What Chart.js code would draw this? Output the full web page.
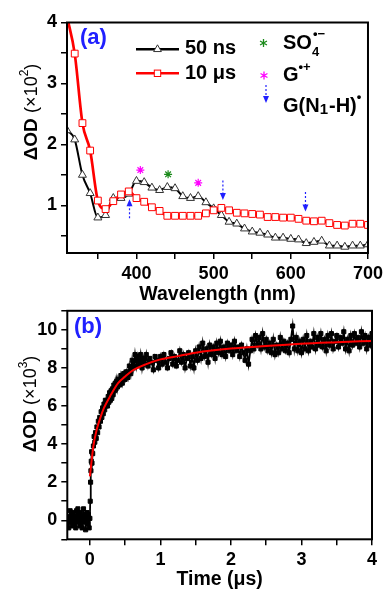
<!DOCTYPE html>
<html>
<head>
<meta charset="utf-8">
<script src="https://cdn.jsdelivr.net/npm/chart.js@4.4.1/dist/chart.umd.min.js"></script>
<style>
    html, body { margin: 0; padding: 0; background: #fff; }
    body { width: 387px; height: 591px; position: relative; overflow: hidden; }
    canvas { position: absolute; left: 0; }
    #spectra { top: 0; }
    #kinetics { top: 296px; }
</style>
</head>
<body>
<canvas id="spectra" width="387" height="306"></canvas>
<canvas id="kinetics" width="387" height="295"></canvas>
<script>
// panel (a): transient spectra
const wavelengths = [310, 320, 330, 340, 350, 360, 370, 380, 390, 400, 410, 420, 430, 440, 450, 460, 470, 480, 490, 500,
    510, 520, 530, 540, 550, 560, 570, 580, 590, 600, 610, 620, 630, 640, 650, 660, 670, 680, 690, 700]
const od50ns = [2.23, 2.08, 1.50, 1.20, 0.80, 0.84, 1.12, 1.12, 1.19, 1.40, 1.38, 1.29, 1.25, 1.30, 1.28, 1.15, 1.12, 1.15, 1.05, 0.95,
    0.84, 0.73, 0.70, 0.62, 0.57, 0.55, 0.52, 0.47, 0.47, 0.45, 0.44, 0.38, 0.40, 0.42, 0.34, 0.34, 0.32, 0.34, 0.34, 0.36]
const od10us = [4.10, 3.49, 2.35, 1.90, 1.08, 0.94, 1.07, 1.18, 1.23, 1.12, 1.06, 0.97, 0.91, 0.83, 0.83, 0.83, 0.83, 0.83, 0.87, 0.92,
    0.96, 0.92, 0.88, 0.87, 0.86, 0.85, 0.81, 0.81, 0.80, 0.80, 0.78, 0.75, 0.74, 0.75, 0.71, 0.68, 0.67, 0.70, 0.70, 0.68]

// band markers
const gCationX = [405, 480]
const gCationY = [1.58, 1.37]
const so4X = [441]
const so4Y = [1.51]
const arrowX = [391, 512, 619]
const arrowTail = [0.79, 1.41, 1.22]
const arrowTip = [1.10, 1.09, 0.90]

// panel (b): kinetic trace
const timeUs = [-0.31, -0.30, -0.29, -0.28, -0.27, -0.26, -0.25, -0.24, -0.23, -0.22, -0.21, -0.20, -0.19, -0.18, -0.17, -0.16,
    -0.15, -0.14, -0.13, -0.12, -0.11, -0.10, -0.09, -0.08, -0.07, -0.06, -0.05, -0.04, -0.03, -0.02, -0.01, 0.00,
    0.005, 0.01, 0.015, 0.02, 0.025, 0.03, 0.04, 0.05, 0.06, 0.07, 0.08, 0.09, 0.10, 0.11, 0.12, 0.13, 0.14, 0.15,
    0.16, 0.17, 0.18, 0.19, 0.20, 0.21, 0.22, 0.23, 0.24, 0.25, 0.26, 0.27, 0.28, 0.29, 0.30, 0.31, 0.32, 0.33, 0.34,
    0.35, 0.36, 0.37, 0.38, 0.39, 0.40, 0.42, 0.44, 0.46, 0.48, 0.50, 0.52, 0.54, 0.56, 0.58, 0.60, 0.62, 0.64, 0.66,
    0.68, 0.70, 0.72, 0.74, 0.76, 0.78,
    0.800, 0.825, 0.850, 0.875, 0.900, 0.925, 0.950, 0.975, 1.000, 1.025, 1.050, 1.075, 1.100, 1.125, 1.150, 1.175,
    1.200, 1.225, 1.250, 1.275, 1.300, 1.325, 1.350, 1.375, 1.400, 1.425, 1.450, 1.475, 1.500, 1.525, 1.550, 1.575,
    1.600, 1.625, 1.650, 1.675, 1.700, 1.725, 1.750, 1.775, 1.800, 1.825, 1.850, 1.875, 1.900, 1.925, 1.950, 1.975,
    2.000, 2.025, 2.050, 2.075, 2.100, 2.125, 2.150, 2.175, 2.200, 2.225, 2.250, 2.275, 2.300, 2.325, 2.350, 2.375,
    2.400, 2.425, 2.450, 2.475, 2.500, 2.525, 2.550, 2.575, 2.600, 2.625, 2.650, 2.675, 2.700, 2.725, 2.750, 2.775,
    2.800, 2.825, 2.850, 2.875, 2.900, 2.925, 2.950, 2.975, 3.000, 3.025, 3.050, 3.075, 3.100, 3.125, 3.150, 3.175,
    3.200, 3.225, 3.250, 3.275, 3.300, 3.325, 3.350, 3.375, 3.400, 3.425, 3.450, 3.475, 3.500, 3.525, 3.550, 3.575,
    3.600, 3.625, 3.650, 3.675, 3.700, 3.725, 3.750, 3.775, 3.800, 3.825, 3.850, 3.875, 3.900, 3.925, 3.950, 3.975,
    4.000]
const odTrace = [0.2, -0.4, 0.1, 0.5, -0.1, 0.3, -0.3, 0.0, 0.4, -0.2, 0.2, -0.4, 0.5, 0.1, 0.6, -0.1,
    0.3, -0.3, 0.4, 0.0, -0.4, 0.2, 0.6, -0.1, 0.3, -0.5, 0.1, 0.4, -0.2, 0.3, -0.4, 0.1,
    1.0, 2.0, 2.6, 3.1, 3.6, 3.0, 3.5, 3.9, 4.4, 4.1, 4.6, 4.3, 4.9, 4.6, 5.2, 4.9, 5.4, 5.2,
    5.7, 5.4, 5.9, 5.6, 6.1, 5.8, 6.3, 6.0, 6.3, 6.0, 6.5, 6.2, 6.7, 6.3, 6.8, 6.4, 6.9, 6.6, 7.1,
    6.8, 7.2, 6.9, 7.3, 7.0, 7.4, 7.1, 7.6, 7.2, 7.7, 7.4, 7.8, 7.5, 8.1, 7.7, 8.4, 8.0, 8.7, 8.1,
    8.6, 8.2, 8.7, 8.0, 8.5, 8.2,
    8.7, 8.1, 8.5, 8.3, 7.9, 8.6, 8.4, 8.0, 8.6, 8.2, 8.7, 8.3, 8.0, 8.5, 8.8, 8.2,
    8.6, 8.1, 8.4, 8.9, 8.3, 8.7, 8.0, 8.5, 8.8, 8.1, 8.6, 8.0, 8.9, 8.4, 9.1, 8.5,
    9.3, 8.6, 9.0, 8.3, 9.2, 8.7, 9.1, 8.5, 9.3, 8.8, 9.4, 8.7, 9.1, 8.6, 9.3, 8.9,
    9.2, 8.7, 9.4, 8.9, 9.1, 8.6, 9.2, 8.8, 8.4, 9.0, 8.2, 8.9, 9.5, 9.0, 9.7, 9.2,
    9.6, 9.0, 9.8, 9.1, 9.5, 8.9, 9.3, 8.8, 9.5, 8.7, 9.2, 8.8, 9.6, 9.0, 9.4, 8.9,
    9.3, 8.8, 9.5, 10.2, 9.0, 9.6, 8.9, 9.4, 8.8, 9.5, 9.0, 9.7, 8.9, 9.4, 9.1, 9.8,
    9.0, 9.6, 9.2, 9.8, 9.1, 9.5, 8.9, 9.7, 9.2, 9.8, 9.0, 9.4, 9.7, 9.1, 9.6, 9.3,
    9.9, 9.0, 9.5, 8.9, 9.7, 9.2, 9.8, 9.3, 9.6, 9.1, 9.9, 9.3, 9.7, 9.0, 9.6, 9.2,
    9.8]
const fitTime = [0.00, 0.05, 0.10, 0.15, 0.20, 0.30, 0.40, 0.50, 0.60, 0.80, 1.00, 1.25, 1.50, 2.00, 2.50, 3.00, 3.50, 4.00]
const fitOd = [2.3, 3.9, 4.8, 5.4, 5.9, 6.6, 7.2, 7.55, 7.85, 8.2, 8.45, 8.62, 8.8, 9.02, 9.15, 9.27, 9.35, 9.42]

const FONT = '"Liberation Sans", Arial, sans-serif'
const BLUE = '#2020ff'
const f = (size, bold) => `${bold ? 'bold ' : ''}${size}px ${FONT}`
const pts = (xs, ys) => xs.map((x, i) => ({ x, y: ys[i] }))

Chart.defaults.font.family = FONT
Chart.defaults.color = '#000'

const drawParts = (ctx, parts, x, y) => {
    let cx = x
    parts.forEach(p => {
        ctx.font = p.font
        ctx.fillStyle = p.color || '#000'
        ctx.fillText(p.text, cx, y + (p.dy || 0))
        cx += ctx.measureText(p.text).width + (p.gap || 0)
    })
    return cx
}

const partsWidth = (ctx, parts) => parts.reduce((w, p) => {
    ctx.font = p.font
    return w + ctx.measureText(p.text).width + (p.gap || 0)
}, 0)

const yTitle = (ctx, sup, cx, cy) => {
    const parts = [
        { text: 'ΔOD ', font: f(19, true) },
        { text: '(×10', font: f(18, false) },
        { text: sup, font: f(12, false), dy: -7 },
        { text: ')', font: f(18, false) }
    ]
    ctx.save()
    ctx.translate(cx, cy)
    ctx.rotate(-Math.PI / 2)
    ctx.textBaseline = 'middle'
    drawParts(ctx, parts, -partsWidth(ctx, parts) / 2, 0)
    ctx.restore()
}

const drawArrow = (ctx, px, y0, y1) => {
    const dir = y1 > y0 ? 1 : -1
    ctx.save()
    ctx.strokeStyle = BLUE
    ctx.fillStyle = BLUE
    ctx.lineWidth = 1.2
    ctx.setLineDash([2, 2])
    ctx.beginPath()
    ctx.moveTo(px, y0)
    ctx.lineTo(px, y1 - dir * 5)
    ctx.stroke()
    ctx.setLineDash([])
    ctx.beginPath()
    ctx.moveTo(px, y1)
    ctx.lineTo(px - 3, y1 - dir * 7)
    ctx.lineTo(px + 3, y1 - dir * 7)
    ctx.closePath()
    ctx.fill()
    ctx.restore()
}

const drawStar = (ctx, px, py, r, color) => {
    ctx.save()
    ctx.strokeStyle = color
    ctx.lineWidth = 1.3
    ctx.beginPath()
    for (let k = 0; k < 3; k++) {
        const a = Math.PI / 2 + k * Math.PI / 3
        ctx.moveTo(px - Math.cos(a) * r, py - Math.sin(a) * r)
        ctx.lineTo(px + Math.cos(a) * r, py + Math.sin(a) * r)
    }
    ctx.stroke()
    ctx.restore()
}

const frame = {
    id: 'frame',
    afterDatasetsDraw(chart) {
        const { ctx, chartArea: a } = chart
        ctx.save()
        ctx.strokeStyle = '#000'
        ctx.lineWidth = 2
        ctx.strokeRect(a.left, a.top, a.right - a.left, a.bottom - a.top)
        ctx.restore()
    }
}

const spectraDecor = {
    id: 'spectraDecor',
    afterDatasetsDraw(chart) {
        const { ctx, scales: { x, y } } = chart
        arrowX.forEach((v, i) => {
            drawArrow(ctx, x.getPixelForValue(v), y.getPixelForValue(arrowTail[i]), y.getPixelForValue(arrowTip[i]))
        })
    },
    afterDraw(chart) {
        const { ctx } = chart
        ctx.save()
        ctx.textBaseline = 'middle'
        drawParts(ctx, [{ text: '(a)', font: f(22, true), color: BLUE }], 80, 38)

        // series legend
        ctx.lineWidth = 2.5
        ctx.strokeStyle = '#000'
        ctx.beginPath(); ctx.moveTo(136, 49.3); ctx.lineTo(179, 49.3); ctx.stroke()
        ctx.strokeStyle = '#ff0000'
        ctx.beginPath(); ctx.moveTo(136, 73.3); ctx.lineTo(179, 73.3); ctx.stroke()
        ctx.lineWidth = 1
        ctx.fillStyle = '#fff'
        ctx.strokeStyle = '#333'
        ctx.beginPath()
        ctx.moveTo(157.5, 49.3 - 4.5)
        ctx.lineTo(157.5 + 3.9, 49.3 + 2.25)
        ctx.lineTo(157.5 - 3.9, 49.3 + 2.25)
        ctx.closePath(); ctx.fill(); ctx.stroke()
        ctx.strokeStyle = '#ff0000'
        ctx.fillRect(154.3, 70.1, 6.4, 6.4)
        ctx.strokeRect(154.3, 70.1, 6.4, 6.4)
        drawParts(ctx, [{ text: '50 ns', font: f(20, true) }], 185, 48.5)
        drawParts(ctx, [{ text: '10 μs', font: f(20, true) }], 185, 73)

        // band legend
        drawStar(ctx, 263.5, 43, 4, '#1a8a1a')
        drawStar(ctx, 264, 75.5, 4, '#ff00ff')
        drawArrow(ctx, 266, 85, 103)
        const so = drawParts(ctx, [{ text: 'SO', font: f(20, true) }], 283, 43)
        drawParts(ctx, [{ text: '4', font: f(13, true), dy: 9 }], so, 43)
        drawParts(ctx, [{ text: '•−', font: f(13, true), dy: -9 }], so + 1, 43)
        drawParts(ctx, [
            { text: 'G', font: f(20, true) },
            { text: '•+', font: f(13, true), dy: -8 }
        ], 283, 75)
        drawParts(ctx, [
            { text: 'G(N', font: f(20, true) },
            { text: '1', font: f(15, true), dy: 4, gap: 1 },
            { text: '-H)', font: f(20, true) },
            { text: '•', font: f(13, true), dy: -9 }
        ], 283, 106)
        ctx.restore()
        yTitle(ctx, '2', 32, 112)
    }
}

const kineticsDecor = {
    id: 'kineticsDecor',
    afterDraw(chart) {
        const { ctx } = chart
        ctx.save()
        ctx.textBaseline = 'middle'
        drawParts(ctx, [{ text: '(b)', font: f(22, true), color: BLUE }], 74, 31)
        ctx.restore()
        yTitle(ctx, '3', 31, 108)
    }
}

const tickFont = { family: FONT, size: 18, weight: 'bold' }
const titleFont = { family: FONT, size: 19.5, weight: 'bold' }

const axis = (min, max, step, label, fit) => ({
    type: 'linear',
    min,
    max,
    afterFit: fit,
    afterBuildTicks: s => { s.ticks = s.ticks.filter(t => t.value >= min && t.value <= max) },
    border: { display: false },
    grid: { drawOnChartArea: false, color: '#000', lineWidth: 1.5, tickLength: 6 },
    ticks: {
        stepSize: step,
        includeBounds: false,
        maxTicksLimit: 100,
        autoSkip: false,
        maxRotation: 0,
        padding: 4,
        color: '#000',
        font: tickFont,
        callback: label
    }
})

const common = {
    responsive: false,
    animation: false,
    events: [],
    plugins: { legend: { display: false }, tooltip: { enabled: false } }
}

const spectraX = axis(310, 700, 50, v => v % 100 === 0 ? String(v) : '', s => { s.height = 53 })
spectraX.title = { display: true, text: 'Wavelength (nm)', color: '#000', font: titleFont, padding: 0 }
const spectraY = axis(0.22, 4, 0.5, v => Number.isInteger(v) ? String(v) : '', s => { s.width = 67 })

new Chart(document.getElementById('spectra'), {
    type: 'line',
    data: {
        datasets: [
            {
                data: pts(gCationX, gCationY), showLine: false, pointStyle: 'star',
                pointRadius: 4, pointBorderWidth: 1.2, pointBorderColor: '#ff00ff'
            },
            {
                data: pts(so4X, so4Y), showLine: false, pointStyle: 'star',
                pointRadius: 4, pointBorderWidth: 1.2, pointBorderColor: '#1a8a1a'
            },
            {
                label: '10 μs', data: pts(wavelengths, od10us),
                borderColor: '#ff0000', borderWidth: 2.7, cubicInterpolationMode: 'monotone', clip: 0,
                pointStyle: 'rect', pointRadius: 4.8, pointBorderWidth: 1,
                pointBorderColor: '#ff0000', pointBackgroundColor: '#fff'
            },
            {
                label: '50 ns', data: pts(wavelengths, od50ns),
                borderColor: '#000', borderWidth: 2, cubicInterpolationMode: 'monotone',
                pointStyle: 'triangle', pointRadius: 4.6, pointBorderWidth: 1,
                pointBorderColor: '#333', pointBackgroundColor: '#fff'
            }
        ]
    },
    options: {
        ...common,
        layout: { padding: { left: 0, top: 22.5, right: 17, bottom: 0 } },
        scales: { x: spectraX, y: spectraY }
    },
    plugins: [frame, spectraDecor]
})

const kinX = axis(-0.32, 4, 0.5, v => Number.isInteger(v) ? String(v) : '', s => { s.height = 51.7 })
kinX.title = { display: true, text: 'Time (μs)', color: '#000', font: titleFont, padding: 0 }
const kinY = axis(-1, 11, 1, v => v >= 0 && v <= 10 && v % 2 === 0 ? String(v) : '', s => { s.width = 67.3 })

new Chart(document.getElementById('kinetics'), {
    type: 'line',
    data: {
        datasets: [
            {
                label: 'fit', data: pts(fitTime, fitOd),
                borderColor: '#ff0000', borderWidth: 2, pointRadius: 0, cubicInterpolationMode: 'monotone'
            },
            {
                label: 'trace', data: pts(timeUs, odTrace),
                borderColor: '#000', borderWidth: 1.8,
                pointStyle: 'rect', pointRadius: 2.9, pointBorderWidth: 1,
                pointBorderColor: '#000', pointBackgroundColor: '#000'
            }
        ]
    },
    options: {
        ...common,
        layout: { padding: { left: 0, top: 13.3, right: 15, bottom: 0 } },
        scales: { x: kinX, y: kinY }
    },
    plugins: [frame, kineticsDecor]
})
</script>
</body>
</html>
